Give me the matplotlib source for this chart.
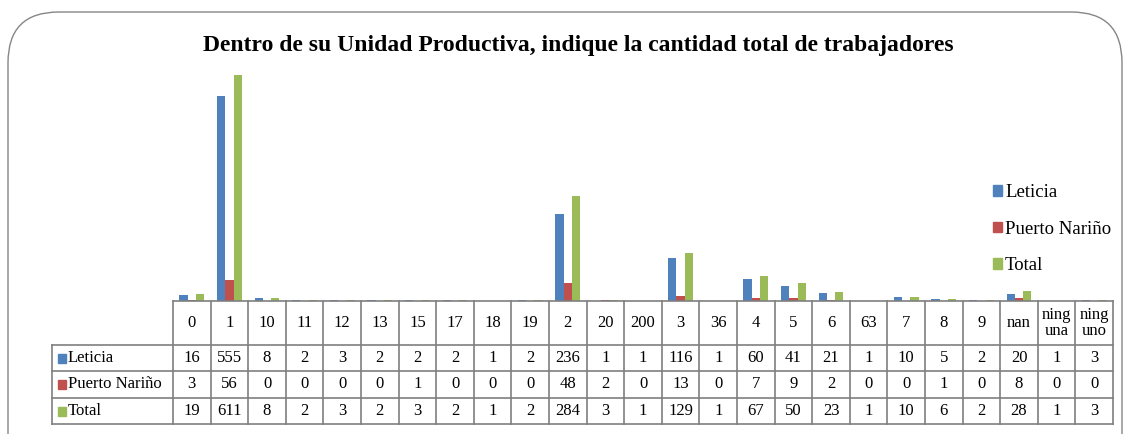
import numpy as np
import matplotlib
matplotlib.use("Agg")
import matplotlib.pyplot as plt
import matplotlib.transforms as mtransforms
from matplotlib.patches import FancyBboxPatch, Rectangle
from matplotlib.lines import Line2D

plt.rcParams['font.family'] = ['Liberation Serif', 'DejaVu Serif']

categories = ["0", "1", "10", "11", "12", "13", "15", "17", "18", "19", "2", "20", "200",
              "3", "36", "4", "5", "6", "63", "7", "8", "9", "nan", "ning\nuna", "ning\nuno"]
leticia = [16, 555, 8, 2, 3, 2, 2, 2, 1, 2, 236, 1, 1, 116, 1, 60, 41, 21, 1, 10, 5, 2, 20, 1, 3]
puerto_narino = [3, 56, 0, 0, 0, 0, 1, 0, 0, 0, 48, 2, 0, 13, 0, 7, 9, 2, 0, 0, 1, 0, 8, 0, 0]
total = [19, 611, 8, 2, 3, 2, 3, 2, 1, 2, 284, 3, 1, 129, 1, 67, 50, 23, 1, 10, 6, 2, 28, 1, 3]

series = [("Leticia", leticia, "#4F81BD"),
          ("Puerto Nariño", puerto_narino, "#C0504D"),
          ("Total", total, "#9BBB59")]

W, H = 1126, 434
fig = plt.figure(figsize=(W / 100, H / 100), dpi=100)

# plot area (pixel positions -> figure fractions)
x0, x1, ytop, ybase = 173, 1113, 75, 301
ax = fig.add_axes([x0 / W, 1 - ybase / H, (x1 - x0) / W, (ybase - ytop) / H])
ax.set_xlim(-0.5, len(categories) - 0.5)
ax.set_ylim(0, max(total))
ax.axis("off")

x = np.arange(len(categories))
bw = 0.22
for k, (name, vals, col) in enumerate(series):
    ax.bar(x + (k - 1) * bw, vals, width=bw, color=col, label=name)

# legend
handles = [Rectangle((0, 0), 1, 1, color=c) for _, _, c in series]
fig.legend(handles, [n for n, _, _ in series], loc="upper left",
           bbox_to_anchor=(976 / W, 1 - 167 / H), frameon=False,
           handlelength=0.5, handleheight=0.5, handletextpad=0.15,
           labelspacing=1.05, fontsize=13.5)

# title
fig.text(0.5 * (193 + 963) / W, 1 - 46 / H,
         "Dentro de su Unidad Productiva, indique la cantidad total de trabajadores",
         ha="center", va="center", fontsize=17, fontweight="bold")

# data table under the bars
tr = mtransforms.blended_transform_factory(ax.transData, fig.transFigure)
fy = lambda py: 1 - py / H
lc = "#7f7f7f"
left_edge = -0.5 - (173 - 52) / ((x1 - x0) / len(categories))
row_y = [301, 345, 371, 398, 424]
n = len(categories)
fs = 12

# horizontal lines
fig.add_artist(Line2D([-0.5, n - 0.5], [fy(row_y[0])] * 2, transform=tr, color=lc, lw=1.2))
for yy in row_y[1:]:
    fig.add_artist(Line2D([left_edge, n - 0.5], [fy(yy)] * 2, transform=tr, color=lc, lw=1.2))
# vertical lines
fig.add_artist(Line2D([left_edge] * 2, [fy(row_y[1]), fy(row_y[-1])], transform=tr, color=lc, lw=1.2))
for i in range(n + 1):
    fig.add_artist(Line2D([i - 0.5] * 2, [fy(row_y[0]), fy(row_y[-1])], transform=tr, color=lc, lw=1.2))

# header labels
for i, c in enumerate(categories):
    fig.text(i, fy((row_y[0] + row_y[1]) / 2), c, transform=tr, ha="center", va="center",
             fontsize=fs, linespacing=1.05)

# rows
for r, (name, vals, col) in enumerate(series):
    yc = fy((row_y[r + 1] + row_y[r + 2]) / 2)
    fig.add_artist(Rectangle((58 / W, yc - 4.5 / H), 8 / W, 9 / H, transform=fig.transFigure,
                             color=col))
    fig.text(68 / W, yc, name, ha="left", va="center", fontsize=fs)
    for i, v in enumerate(vals):
        fig.text(i, yc, str(v), transform=tr, ha="center", va="center", fontsize=fs)

# rounded chart border
fig.add_artist(FancyBboxPatch((8 / W, -0.2), (1122 - 8) / W, 1.2 - 12 / H,
                              boxstyle="round,pad=0,rounding_size=0.045",
                              transform=fig.transFigure, fill=False, ec="#868686", lw=1.0,
                              mutation_aspect=W / H))

fig.savefig("out.png", dpi=100)
